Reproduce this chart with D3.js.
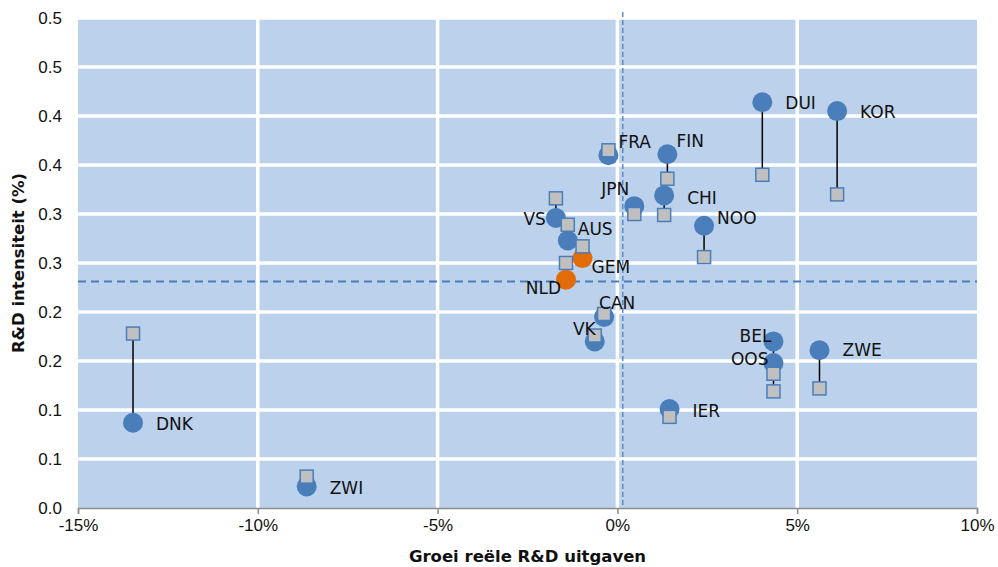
<!DOCTYPE html>
<html>
<head>
<meta charset="utf-8">
<script src="https://cdn.jsdelivr.net/npm/d3@7"></script>
<style>
  body { margin: 0; background: #fff; }
  svg { font-family: "DejaVu Sans", Verdana, sans-serif; }
</style>
</head>
<body>
<div id="chart"></div>
<script>
// R&D intensity vs growth of real R&D spending
const countries = ['DNK', 'ZWI', 'VS', 'AUS', 'GEM', 'NLD', 'CAN', 'VK', 'FRA', 'FIN', 'JPN', 'CHI', 'NOO', 'DUI', 'KOR', 'BEL', 'OOS', 'ZWE', 'IER'];
const growth = [-13.47, -8.64, -1.71, -1.38, -0.97, -1.43, -0.37, -0.63, -0.25, 1.39, 0.47, 1.30, 2.41, 4.03, 6.11, 4.34, 4.34, 5.62, 1.45];
const intensityNow = [0.087, 0.022, 0.296, 0.273, 0.255, 0.233, 0.195, 0.170, 0.360, 0.361, 0.308, 0.319, 0.288, 0.414, 0.405, 0.170, 0.148, 0.161, 0.101];
const intensityBefore = [0.178, 0.032, 0.316, 0.289, 0.267, 0.250, 0.198, 0.176, 0.365, 0.336, 0.300, 0.299, 0.256, 0.340, 0.320, 0.137, 0.119, 0.122, 0.093];
const highlighted = ['GEM', 'NLD'];

const meanGrowth = 0.15;
const meanIntensity = 0.231;

const xTicks = [-15, -10, -5, 0, 5, 10];
const xTickLabels = ['-15%', '-10%', '-5%', '0%', '5%', '10%'];
const yTicks = [0, 0.05, 0.1, 0.15, 0.2, 0.25, 0.3, 0.35, 0.4, 0.45, 0.5];
const yTickLabels = ['0.0', '0.1', '0.1', '0.2', '0.2', '0.3', '0.3', '0.4', '0.4', '0.5', '0.5'];

// label placement: [dx, dy, anchor]
const labelPlace = {
  DNK: [23, 1, 'start'], ZWI: [23, 1, 'start'], VS: [-10, 1, 'end'], AUS: [10, -12, 'start'],
  GEM: [9, 9, 'start'], NLD: [-5, 8, 'end'], CAN: [-5, -14, 'start'], VK: [1, -13, 'end'],
  FRA: [10, -13, 'start'], FIN: [9, -13, 'start'], JPN: [-5, -17, 'end'], CHI: [23, 2, 'start'],
  NOO: [13, -8, 'start'], DUI: [23, 1, 'start'], KOR: [23, 1, 'start'], BEL: [-2, -6, 'end'],
  OOS: [-5, -4, 'end'], ZWE: [23, 0, 'start'], IER: [23, 2, 'start']
};

const data = countries.map((c, i) => ({
  code: c, x: growth[i], now: intensityNow[i], before: intensityBefore[i]
}));

const W = 998, H = 567;
const margin = {top: 18, right: 21, bottom: 59, left: 78};
const width = W - margin.left - margin.right;
const height = H - margin.top - margin.bottom;

const svg = d3.select('#chart').append('svg')
  .attr('width', W)
  .attr('height', H);
const g = svg.append('g')
  .attr('transform', 'translate(' + margin.left + ',' + margin.top + ')');

const x = d3.scaleLinear().domain([-15, 10]).range([0, width]);
const y = d3.scaleLinear().domain([0, 0.5]).range([height, 0]);

// plot background
g.append('rect')
  .attr('width', width)
  .attr('height', height)
  .attr('fill', '#bcd1ec');

// gridlines
g.selectAll('.hgrid')
  .data(yTicks.slice(1))
  .enter().append('line')
  .attr('x1', 0).attr('x2', width)
  .attr('y1', d => y(d)).attr('y2', d => y(d))
  .attr('stroke', '#fff')
  .attr('stroke-width', 3.5);

g.selectAll('.vgrid')
  .data(xTicks.slice(1, -1))
  .enter().append('line')
  .attr('x1', d => x(d)).attr('x2', d => x(d))
  .attr('y1', 0).attr('y2', height)
  .attr('stroke', '#fff')
  .attr('stroke-width', 3.5);

// x axis
const xAxis = g.append('g')
  .attr('transform', 'translate(0,' + height + ')')
  .call(d3.axisBottom(x).tickValues(xTicks).tickSize(6).tickPadding(5)
    .tickFormat((d, i) => xTickLabels[i]));
xAxis.select('.domain').attr('stroke', '#8c8c8c').attr('stroke-width', 1.5);
xAxis.selectAll('.tick line').attr('stroke', '#8c8c8c').attr('stroke-width', 1.5);
xAxis.selectAll('text').attr('fill', '#111').style('font-size', '17px');

// y axis
const yAxis = g.append('g')
  .call(d3.axisLeft(y).tickValues(yTicks).tickSize(0).tickPadding(16)
    .tickFormat((d, i) => yTickLabels[i]));
yAxis.select('.domain').remove();
yAxis.selectAll('text').attr('fill', '#111').style('font-size', '17px');

// mean lines
g.append('line')
  .attr('x1', x(-15)).attr('x2', x(10))
  .attr('y1', y(meanIntensity)).attr('y2', y(meanIntensity))
  .attr('stroke', '#4a7ebb')
  .attr('stroke-width', 2)
  .attr('stroke-dasharray', '8,5');

g.append('line')
  .attr('x1', x(meanGrowth)).attr('x2', x(meanGrowth))
  .attr('y1', -6).attr('y2', height)
  .attr('stroke', '#4a7ebb')
  .attr('stroke-width', 1.3)
  .attr('stroke-dasharray', '5,3');

// connectors
g.selectAll('.conn')
  .data(data)
  .enter().append('line')
  .attr('x1', d => x(d.x)).attr('x2', d => x(d.x))
  .attr('y1', d => y(d.now)).attr('y2', d => y(d.before))
  .attr('stroke', '#000')
  .attr('stroke-width', 1.5);

// current values
g.selectAll('.dot')
  .data(data)
  .enter().append('circle')
  .attr('cx', d => x(d.x))
  .attr('cy', d => y(d.now))
  .attr('r', 10)
  .attr('fill', d => highlighted.includes(d.code) ? '#e36c0a' : '#4a7ebb');

// earlier values
const s = 13;
g.selectAll('.sq')
  .data(data)
  .enter().append('rect')
  .attr('x', d => x(d.x) - s / 2)
  .attr('y', d => y(d.before) - s / 2)
  .attr('width', s)
  .attr('height', s)
  .attr('fill', '#c0c0c0')
  .attr('stroke', '#4a7ebb')
  .attr('stroke-width', 1.5);

// labels
g.selectAll('.lbl')
  .data(data)
  .enter().append('text')
  .attr('x', d => x(d.x) + labelPlace[d.code][0])
  .attr('y', d => y(d.now) + labelPlace[d.code][1])
  .attr('dy', '0.36em')
  .attr('text-anchor', d => labelPlace[d.code][2])
  .style('font-size', '17px')
  .attr('fill', '#111')
  .text(d => d.code);

// axis titles
svg.append('text')
  .attr('x', margin.left + x(-2.5))
  .attr('y', 562)
  .attr('text-anchor', 'middle')
  .style('font-size', '16.5px')
  .style('font-weight', 'bold')
  .attr('fill', '#111')
  .text('Groei reële R&D uitgaven');

svg.append('text')
  .attr('transform', 'translate(24,' + (margin.top + height / 2) + ') rotate(-90)')
  .attr('text-anchor', 'middle')
  .style('font-size', '16.5px')
  .style('font-weight', 'bold')
  .attr('fill', '#111')
  .text('R&D intensiteit (%)');
</script>
</body>
</html>
